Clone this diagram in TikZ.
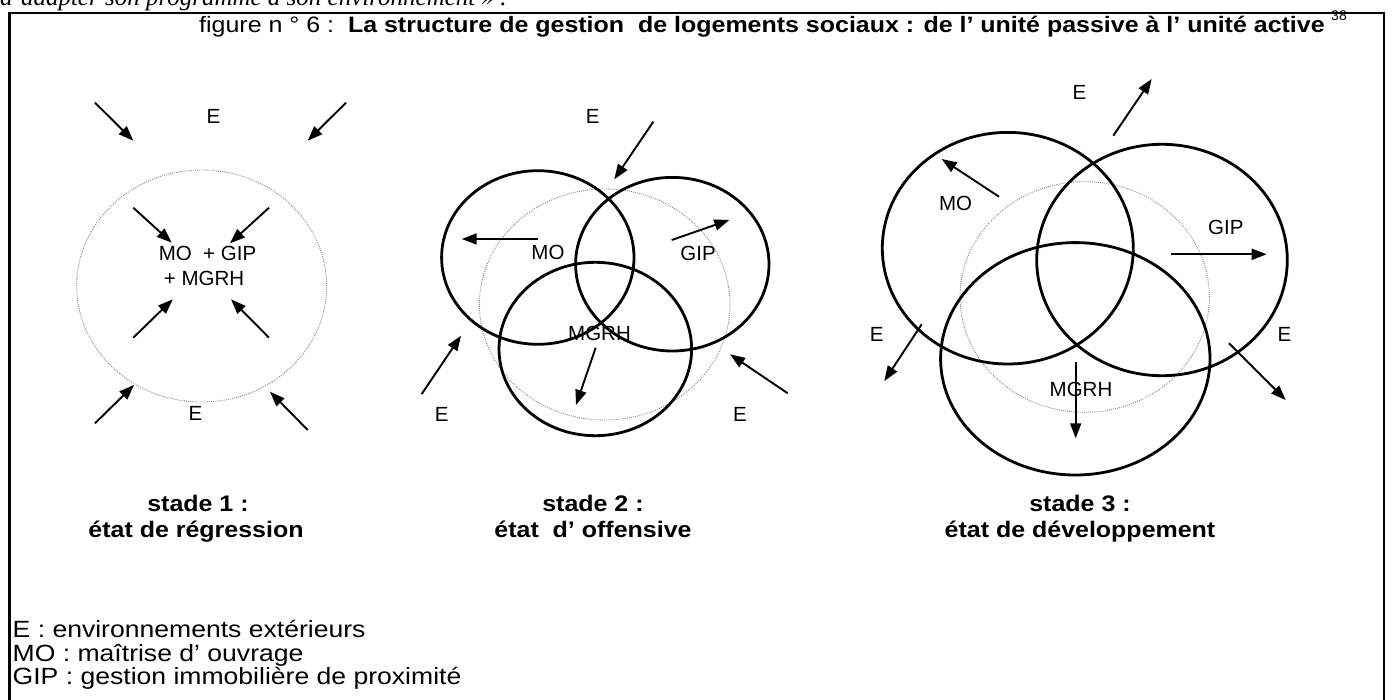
\documentclass[tikz,border=0pt]{standalone}
\usepackage{fontspec}
\setmainfont{Liberation Sans}
\newfontfamily\serifit{Liberation Serif}
\newfontfamily\widetitle[FakeStretch=1.12]{Liberation Sans}
\newfontfamily\widecap[FakeStretch=1.11]{Liberation Sans}
\newfontfamily\widelegend[FakeStretch=1.13]{Liberation Sans}
\usetikzlibrary{shapes.geometric,arrows.meta}
\begin{document}
\begin{tikzpicture}[x=1pt,y=-1pt,
  venn/.style={draw, ellipse, line width=2.8pt, inner sep=0pt},
  dotc/.style={draw=black!50, ellipse, line width=0.9pt, dash pattern=on 0.9pt off 1.2pt, inner sep=0pt},
  arr/.style={line width=1.9pt, -{Triangle[length=15pt,width=11pt]}},
  lab/.style={font=\fontsize{20.5}{24}\selectfont, inner sep=0pt},
  stagecap/.style={font=\fontsize{22.5}{26}\widecap\bfseries, inner sep=0pt, anchor=base},
  leg/.style={font=\fontsize{23.5}{23.5}\widelegend, inner sep=0pt, anchor=base west, align=left}]
\useasboundingbox (0,0) rectangle (1394,700);
\clip (0,0) rectangle (1394,700);
% cut text above frame
\node[inner sep=0pt, anchor=base west, font=\fontsize{25}{28}\selectfont\serifit\itshape] (toptext) at (0,5.5) {d’adapter son programme à son environnement » .};
% frame
\draw[line width=2.5pt] (9.5,720) -- (9.5,13) -- (1384,13) -- (1384,720);
% title
\node[inner sep=0pt, anchor=base west, font=\fontsize{22.3}{26}\widetitle] (title) at (199,33) {figure n ° 6 :\ \ \textbf{La structure de gestion\ \ de logements sociaux : de l’ unité passive à l’ unité active}};
\node[inner sep=0pt, anchor=base west, font=\fontsize{14}{16}\selectfont] (fn) at (1331,20.5) {38};

% ---------- stage 1
\node[dotc, minimum width=250pt, minimum height=232pt] (d1) at (201.7,286) {};
\node[lab] (t1a) at (207.5,253) {MO\ \ + GIP};
\node[lab] (t1b) at (204,278.5) {+ MGRH};
\node[lab] (e1t) at (213.5,116.3) {E};
\node[lab] (e1b) at (195.5,413.8) {E};

% ---------- stage 2
\node[dotc, minimum width=250.6pt, minimum height=231pt] (d2) at (604.7,304.5) {};
\node[venn, minimum width=192.4pt, minimum height=173.6pt] (mo2) at (537.8,257.5) {};
\node[venn, minimum width=193.4pt, minimum height=173.6pt] (gip2) at (672.3,264.2) {};
\node[venn, minimum width=192.6pt, minimum height=173.4pt] (mgrh2) at (595.3,349) {};
\node[lab] (l2mo) at (548,252.8) {MO};
\node[lab] (l2gip) at (698,253) {GIP};
\node[lab] (l2mgrh) at (599.5,333.7) {MGRH};
\node[lab] (e2t) at (592.8,116) {E};
\node[lab] (e2l) at (441.7,414) {E};
\node[lab] (e2r) at (740,414) {E};

% ---------- stage 3
\node[dotc, minimum width=249.4pt, minimum height=230.6pt] (d3) at (1084.7,297) {};
\node[venn, minimum width=251pt, minimum height=231.6pt] (mo3) at (1007.8,248.2) {};
\node[venn, minimum width=250.6pt, minimum height=231.4pt] (gip3) at (1162,260) {};
\node[venn, minimum width=269.4pt, minimum height=232.4pt] (mgrh3) at (1075.3,358.8) {};
\node[lab] (l3mo) at (955.5,203.7) {MO};
\node[lab] (l3gip) at (1225.8,227.8) {GIP};
\node[lab] (l3mgrh) at (1081,389) {MGRH};
\node[lab] (e3t) at (1079.5,92.5) {E};
\node[lab] (e3l) at (876.7,334) {E};
\node[lab] (e3r) at (1284.5,334) {E};

% ---------- arrows
\foreach \n/\a/\b/\c/\d in {
  a1/95/102.7/133.3/140.7, a2/346/102.7/307.7/140.7,
  a3/133.3/207.7/171.7/242.7, a4/269/207.7/230/243.3,
  a5/133.3/337.7/172.7/299.3, a6/269/337.7/231/299.3,
  a7/95/423.3/134/385, a8/307.7/430/270/391.7,
  b1/653.3/121.7/614.3/179.3, b2/538.3/239/461.7/239,
  b3/671.7/240/729.3/220, b4/595.7/347.7/576/405,
  b5/421.7/394/461/335.7, b6/787.7/393.3/730/354.3,
  c1/1113.3/135.7/1151.7/79, c2/999/196.7/941.7/159,
  c3/1171/254.3/1266.7/254.3, c4/1075.7/361.7/1075.7/438.3,
  c5/921.7/324.3/884.3/381, c6/1229/343.3/1285.7/400}{
  \coordinate (\n s) at (\a,\b);
  \coordinate (\n e) at (\c,\d);
  \draw[arr] (\n s) -- (\n e);
}

% ---------- captions
\node[stagecap] (s1a) at (198,511) {stade 1 :};
\node[stagecap] (s1b) at (196,537) {état de régression};
\node[stagecap] (s2a) at (593,511) {stade 2 :};
\node[stagecap] (s2b) at (593,537) {état\ \ d’ offensive};
\node[stagecap] (s3a) at (1080,511) {stade 3 :};
\node[stagecap] (s3b) at (1080,537) {état de développement};

% ---------- legend
\node[leg] (legend) at (12.5,684.5) {E : environnements extérieurs\\MO : maîtrise d’ ouvrage\\GIP : gestion immobilière de proximité};
\end{tikzpicture}
\end{document}
